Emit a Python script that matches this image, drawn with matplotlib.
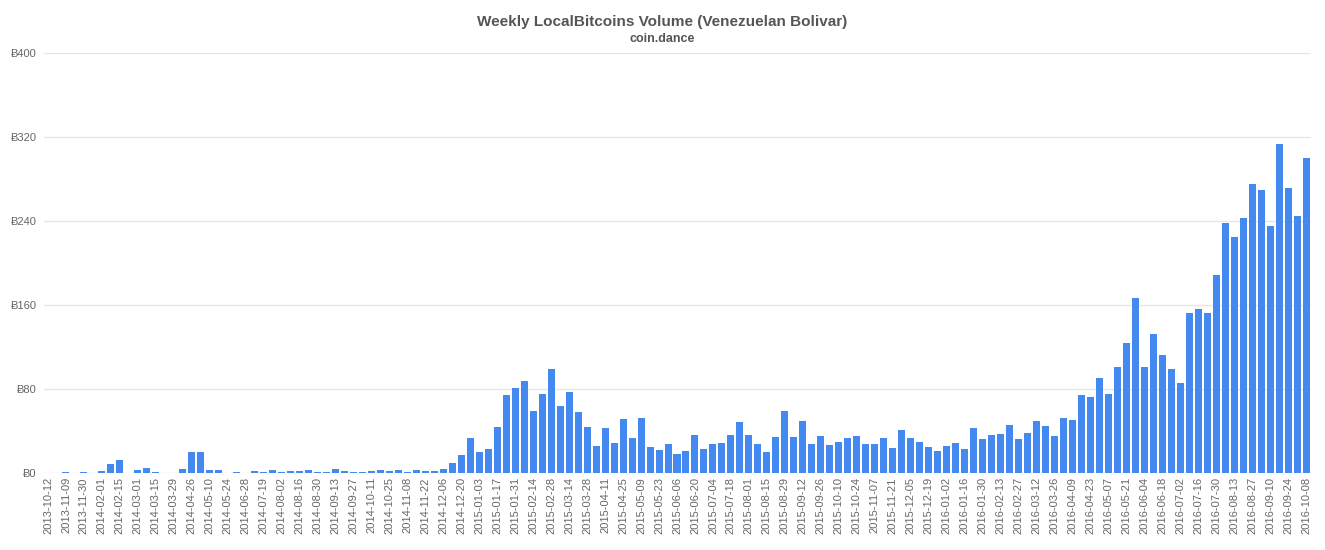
import numpy as np
import matplotlib
matplotlib.use("Agg")
import matplotlib.pyplot as plt

plt.rcParams['font.family'] = ['Liberation Sans', 'DejaVu Sans']

# every other week is labelled on the axis
tick_labels = [
    '2013-10-12', '2013-11-09', '2013-11-30', '2014-02-01', '2014-02-15',
    '2014-03-01', '2014-03-15', '2014-03-29', '2014-04-26', '2014-05-10',
    '2014-05-24', '2014-06-28', '2014-07-19', '2014-08-02', '2014-08-16',
    '2014-08-30', '2014-09-13', '2014-09-27', '2014-10-11', '2014-10-25',
    '2014-11-08', '2014-11-22', '2014-12-06', '2014-12-20', '2015-01-03',
    '2015-01-17', '2015-01-31', '2015-02-14', '2015-02-28', '2015-03-14',
    '2015-03-28', '2015-04-11', '2015-04-25', '2015-05-09', '2015-05-23',
    '2015-06-06', '2015-06-20', '2015-07-04', '2015-07-18', '2015-08-01',
    '2015-08-15', '2015-08-29', '2015-09-12', '2015-09-26', '2015-10-10',
    '2015-10-24', '2015-11-07', '2015-11-21', '2015-12-05', '2015-12-19',
    '2016-01-02', '2016-01-16', '2016-01-30', '2016-02-13', '2016-02-27',
    '2016-03-12', '2016-03-26', '2016-04-09', '2016-04-23', '2016-05-07',
    '2016-05-21', '2016-06-04', '2016-06-18', '2016-07-02', '2016-07-16',
    '2016-07-30', '2016-08-13', '2016-08-27', '2016-09-10', '2016-09-24',
    '2016-10-08',
]

# weekly volume in BTC
volume = [
    0, 0.4, 1.0, 0, 1.0, 0, 2.2, 8.6, 12.4, 0,
    2.9, 5.0, 1.0, 0, 0, 4.1, 20.3, 20.3, 2.5, 3.0,
    0.3, 0.6, 0.3, 1.9, 0.5, 3.2, 1.0, 1.9, 1.9, 3.2,
    0.6, 0.6, 3.8, 1.9, 0.8, 1.2, 1.9, 2.9, 2.2, 2.5,
    1.0, 3.2, 2.2, 2.2, 3.7, 9.5, 16.8, 33.3, 20.0, 22.5,
    43.5, 74.0, 81.0, 87.6, 59.0, 75.2, 99.4, 63.5, 76.8, 57.8,
    43.5, 26.0, 42.9, 28.9, 51.0, 33.3, 52.4, 25.0, 21.9, 28.0,
    18.1, 21.3, 35.9, 22.5, 28.0, 29.0, 36.0, 48.3, 36.5, 27.6,
    20.0, 34.0, 59.4, 34.6, 49.2, 27.9, 34.9, 26.7, 29.2, 33.3,
    34.9, 27.6, 27.9, 33.0, 23.8, 40.6, 33.0, 29.5, 24.8, 21.3,
    25.7, 28.6, 22.9, 42.9, 32.7, 36.5, 37.1, 45.5, 32.7, 38.1,
    49.5, 44.4, 34.9, 52.7, 50.8, 74.5, 72.5, 90.3, 74.9, 101.0,
    123.6, 166.5, 101.3, 132.7, 112.2, 98.7, 86.0, 152.4, 156.2, 152.7,
    188.6, 238.1, 224.4, 243.2, 275.6, 269.5, 234.9, 313.3, 271.1, 244.8,
    299.7,
]

y_ticks = [0, 80, 160, 240, 320, 400]

fig = plt.figure(figsize=(13.25, 5.5), dpi=100)
ax = fig.add_axes([43.5 / 1325, 77 / 550, 1267 / 1325, 420 / 550])

x = np.arange(len(volume))
ax.bar(x, volume, width=0.78, color='#4389f0', zorder=3)

ax.set_xlim(-0.5, len(volume) - 0.5)
ax.set_ylim(0, 400)
ax.set_yticks(y_ticks, labels=['\u0243%d' % v for v in y_ticks])
ax.set_xticks(x[::2], labels=tick_labels)
ax.tick_params(axis='x', rotation=90, length=0, pad=3, labelsize=8, labelcolor='#666666')
ax.tick_params(axis='y', length=0, pad=5, labelsize=8, labelcolor='#666666')
ax.grid(axis='y', color='#e6e6e6', linewidth=1, zorder=0)
for s in ax.spines.values():
    s.set_visible(False)

fig.text(0.5, 1 - 22 / 550, 'Weekly LocalBitcoins Volume (Venezuelan Bolivar)',
         ha='center', va='center', fontsize=11, fontweight='bold', color='#555555')
fig.text(0.5, 1 - 39 / 550, 'coin.dance', ha='center', va='center',
         fontsize=9, fontweight='bold', color='#555555')

fig.savefig('out.png', dpi=100)
